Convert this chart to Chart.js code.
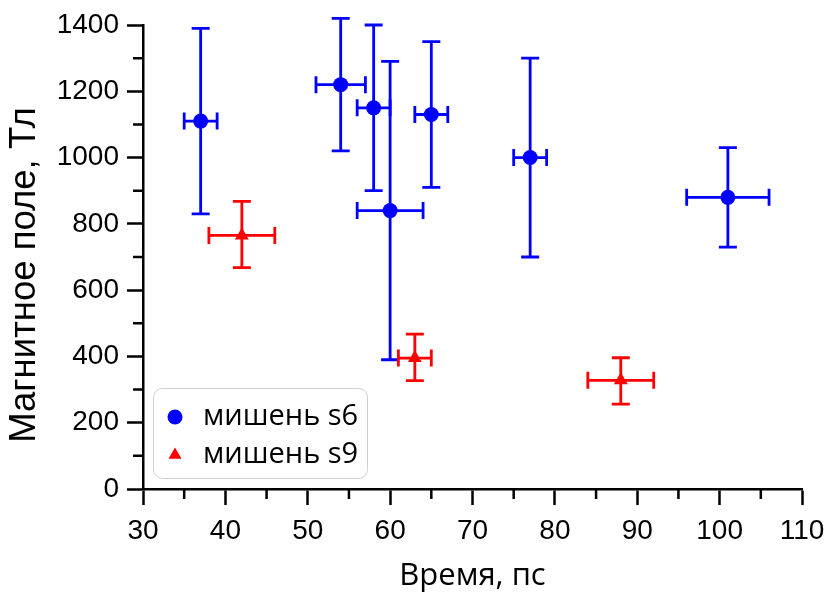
<!DOCTYPE html>
<html><head><meta charset="utf-8">
<script src="https://cdn.jsdelivr.net/npm/chart.js@4/dist/chart.umd.min.js"></script>
<style>html,body{margin:0;padding:0;background:#fff}canvas{display:block}</style>
</head><body>
<canvas id="c" width="825" height="592"></canvas>
<script>
// ---- data ----
const s6Time      = [37, 54, 58, 60, 65, 77, 101];
const s6Field     = [1110, 1220, 1150, 840, 1130, 1000, 880];
const s6TimeLow   = [35, 51, 56, 56, 63, 75, 96];
const s6TimeHigh  = [39, 57, 60, 64, 67, 79, 106];
const s6FieldLow  = [830, 1020, 900, 390, 910, 700, 730];
const s6FieldHigh = [1390, 1420, 1400, 1290, 1350, 1300, 1030];

const s9Time      = [42, 63, 88];
const s9Field     = [765, 395, 328];
const s9TimeLow   = [38, 61, 84];
const s9TimeHigh  = [46, 65, 92];
const s9FieldLow  = [668, 327, 256];
const s9FieldHigh = [868, 467, 396];

const seriesNames = ['мишень s6', 'мишень s9'];
const xTitle = 'Время, пс';
const yTitle = 'Магнитное поле, Тл';
const xRange = [30, 110], xStep = 10, xMinorStep = 5;
const yRange = [0, 1400], yStep = 200, yMinorStep = 100;

function makePoints(xs, ys, xl, xh, yl, yh) {
  return xs.map((v, i) => ({x: v, y: ys[i], xMin: xl[i], xMax: xh[i], yMin: yl[i], yMax: yh[i]}));
}

const errorBars = {
  id: 'errorBars',
  beforeDatasetsDraw(chart) {
    const {ctx, scales: {x, y}} = chart;
    chart.data.datasets.forEach(ds => {
      ctx.save();
      ctx.strokeStyle = ds.backgroundColor;
      ctx.lineWidth = 2.8;
      ds.data.forEach(p => {
        const px = x.getPixelForValue(p.x), py = y.getPixelForValue(p.y);
        const xl = x.getPixelForValue(p.xMin), xh = x.getPixelForValue(p.xMax);
        const yl = y.getPixelForValue(p.yMin), yh = y.getPixelForValue(p.yMax);
        ctx.beginPath();
        ctx.moveTo(px, yl); ctx.lineTo(px, yh);
        ctx.moveTo(px - 9, yl); ctx.lineTo(px + 9, yl);
        ctx.moveTo(px - 9, yh); ctx.lineTo(px + 9, yh);
        ctx.moveTo(xl, py); ctx.lineTo(xh, py);
        ctx.moveTo(xl, py - 8.5); ctx.lineTo(xl, py + 8.5);
        ctx.moveTo(xh, py - 8.5); ctx.lineTo(xh, py + 8.5);
        ctx.stroke();
      });
      ctx.restore();
    });
  }
};

const decorations = {
  id: 'decorations',
  afterDraw(chart) {
    const {ctx, scales: {x, y}, chartArea: ca} = chart;
    ctx.save();
    // minor ticks
    ctx.strokeStyle = '#000'; ctx.lineWidth = 2.5;
    ctx.beginPath();
    for (let v = yRange[0] + yMinorStep; v < yRange[1]; v += yStep) {
      const py = y.getPixelForValue(v);
      ctx.moveTo(ca.left, py); ctx.lineTo(ca.left - 10, py);
    }
    for (let v = xRange[0] + xMinorStep; v < xRange[1]; v += xStep) {
      const px = x.getPixelForValue(v);
      ctx.moveTo(px, ca.bottom); ctx.lineTo(px, ca.bottom + 10);
    }
    ctx.stroke();
    // y title
    ctx.save();
    ctx.translate(25, 275);
    ctx.rotate(-Math.PI / 2);
    ctx.font = '36.5px "Liberation Sans", Arial, sans-serif';
    ctx.fillStyle = '#000';
    ctx.textAlign = 'center'; ctx.textBaseline = 'middle';
    ctx.fillText(yTitle, 0, 0);
    ctx.restore();
    // legend
    const bx = 153.5, by = 388.5, bw = 214, bh = 90, r = 9;
    ctx.beginPath();
    ctx.moveTo(bx + r, by);
    ctx.arcTo(bx + bw, by, bx + bw, by + bh, r);
    ctx.arcTo(bx + bw, by + bh, bx, by + bh, r);
    ctx.arcTo(bx, by + bh, bx, by, r);
    ctx.arcTo(bx, by, bx + bw, by, r);
    ctx.closePath();
    ctx.fillStyle = '#fff'; ctx.fill();
    ctx.strokeStyle = '#cfcfcf'; ctx.lineWidth = 1; ctx.stroke();
    const rows = [417, 455];
    chart.data.datasets.forEach((ds, i) => {
      ctx.fillStyle = ds.backgroundColor;
      ctx.strokeStyle = ds.backgroundColor;
      Chart.helpers.drawPoint(ctx, {pointStyle: ds.pointStyle, radius: 7.5, borderWidth: 0, rotation: 0}, 175, rows[i]);
      ctx.fillStyle = '#000';
      ctx.font = '29px "Open Sans", sans-serif';
      ctx.textAlign = 'left'; ctx.textBaseline = 'middle';
      ctx.fillText(ds.label, 203, rows[i]);
    });
    ctx.restore();
  }
};

const axisCommon = {
  grid: {display: true, drawOnChartArea: false, drawTicks: true, tickLength: 16, tickWidth: 2.5, tickColor: '#000'},
  border: {display: true, color: '#000', width: 2.5},
};

new Chart(document.getElementById('c'), {
  type: 'scatter',
  data: {
    datasets: [
      {label: seriesNames[0], data: makePoints(s6Time, s6Field, s6TimeLow, s6TimeHigh, s6FieldLow, s6FieldHigh),
       backgroundColor: '#0000ff', borderColor: '#0000ff', pointStyle: 'circle', pointRadius: 7.5, borderWidth: 0, pointHoverRadius: 7.5},
      {label: seriesNames[1], data: makePoints(s9Time, s9Field, s9TimeLow, s9TimeHigh, s9FieldLow, s9FieldHigh),
       backgroundColor: '#ff0000', borderColor: '#ff0000', pointStyle: 'triangle', pointRadius: 8, borderWidth: 0, pointHoverRadius: 8}
    ]
  },
  options: {
    responsive: false, animation: false, devicePixelRatio: 1,
    layout: {padding: {top: 25, right: 23, left: 0, bottom: 0}},
    plugins: {legend: {display: false}, tooltip: {enabled: false}},
    scales: {
      x: {
        type: 'linear', min: xRange[0], max: xRange[1],
        ...axisCommon,
        ticks: {stepSize: xStep, color: '#000', padding: 9, font: {family: '"Liberation Sans", Arial, sans-serif', size: 28}, maxRotation: 0, callback: v => String(v)},
        title: {display: true, text: xTitle, color: '#000', font: {family: '"Open Sans", sans-serif', size: 31, lineHeight: 1}, padding: {top: 0, bottom: 0}},
        afterFit(s) { s.height = 103; s.paddingLeft = 0; s.paddingRight = 0; }
      },
      y: {
        type: 'linear', min: yRange[0], max: yRange[1],
        ...axisCommon,
        ticks: {stepSize: yStep, color: '#000', padding: 8, font: {family: '"Liberation Sans", Arial, sans-serif', size: 28}, callback: v => String(v)},
        afterFit(s) { s.width = 143; s.paddingTop = 0; s.paddingBottom = 0; }
      }
    }
  },
  plugins: [errorBars, decorations]
});
</script>
</body></html>
